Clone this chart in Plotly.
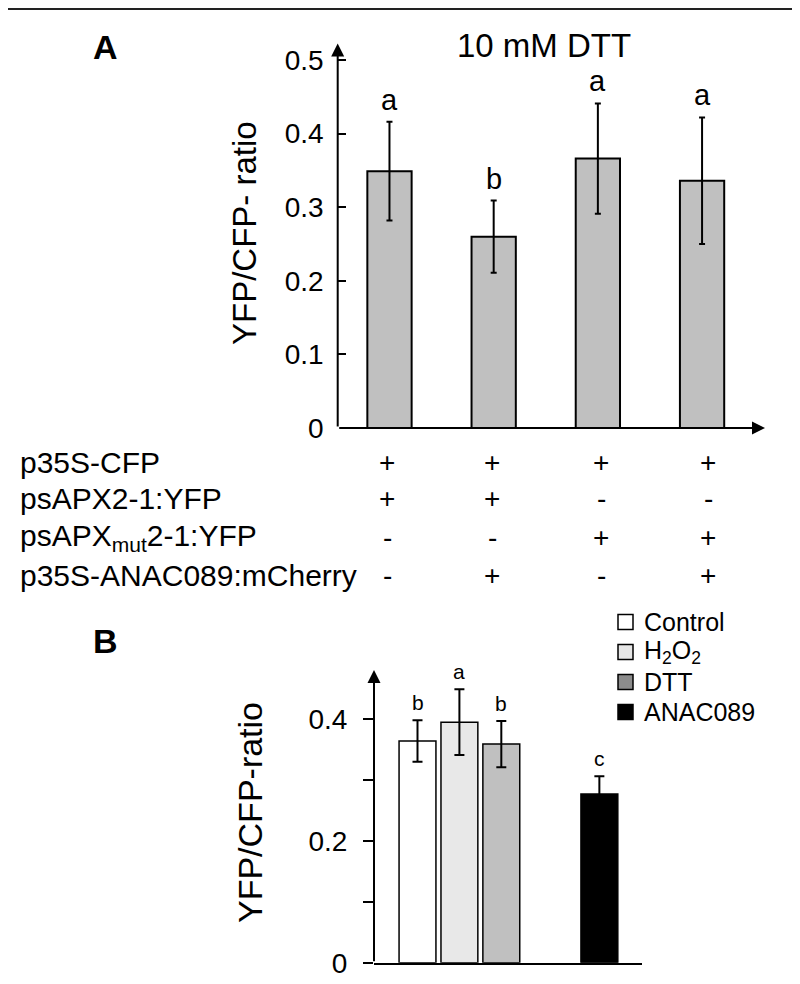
import plotly.graph_objects as go

# ---- panel A data ----
pos_a = [0, 1, 2, 3]
ratio_a = [0.349, 0.260, 0.366, 0.336]
err_a = [0.067, 0.049, 0.075, 0.086]
letters_a = ['a', 'b', 'a', 'a']
yticks_a = [0, 0.1, 0.2, 0.3, 0.4, 0.5]
yticktext_a = ['0', '0.1', '0.2', '0.3', '0.4', '0.5']

row_labels = ['p35S-CFP', 'psAPX2-1:YFP', 'psAPX<sub>mut</sub>2-1:YFP', 'p35S-ANAC089:mCherry']
row_signs = [['+', '+', '+', '+'],
             ['+', '+', '-', '-'],
             ['-', '-', '+', '+'],
             ['-', '+', '-', '+']]

# ---- panel B data ----
cond_b = ['Control', 'H<sub>2</sub>O<sub>2</sub>', 'DTT', 'ANAC089']
pos_b = [0, 1, 2, 4.34]
ratio_b = [0.364, 0.395, 0.359, 0.277]
err_b = [0.034, 0.054, 0.038, 0.029]
letters_b = ['b', 'a', 'b', 'c']
bar_colors_b = ['#ffffff', '#e8e8e8', '#c0c0c0', '#000000']
legend_colors_b = ['#ffffff', '#e6e6e6', '#8c8c8c', '#000000']
yticks_b = [0, 0.2, 0.4]
yticktext_b = ['0', '0.2', '0.4']
yminor_b = [0.1, 0.3]

FONT = 'Liberation Sans, Arial, sans-serif'
W, H = 800, 984


def px(x):
    return x / W


def py(y):
    return 1 - y / H


fig = go.Figure()

fig.add_trace(go.Bar(x=pos_a, y=ratio_a, width=0.425,
                     marker=dict(color='#c0c0c0', line=dict(color='black', width=2)),
                     error_y=dict(type='data', array=err_a, color='black', thickness=2, width=3),
                     xaxis='x', yaxis='y', showlegend=False))

fig.add_trace(go.Bar(x=pos_b, y=ratio_b, width=0.88,
                     marker=dict(color=bar_colors_b, line=dict(color='black', width=1.5)),
                     error_y=dict(type='data', array=err_b, color='black', thickness=2, width=5),
                     xaxis='x2', yaxis='y2', showlegend=False))

xa = [-0.497, 3.604]
ya = [0, 0.5224]
xb = [-1.038, 5.35]
yb = [0, 0.4806]

fig.update_layout(
    width=W, height=H,
    margin=dict(l=0, r=0, t=0, b=0),
    paper_bgcolor='white', plot_bgcolor='white',
    font=dict(family=FONT, color='black'),
    xaxis=dict(domain=[px(337.7), px(765)], range=xa, showticklabels=False, automargin=False,
               showgrid=False, zeroline=False, ticks=''),
    yaxis=dict(domain=[py(428), py(43.5)], range=ya, showgrid=False, zeroline=False,
               automargin=False, tickvals=yticks_a, ticktext=yticktext_a,
               ticks='inside', ticklen=8, tickwidth=2, tickcolor='black',
               ticklabelstandoff=13, tickfont=dict(size=28)),
    xaxis2=dict(domain=[px(374), px(641.7)], range=xb, showticklabels=False, automargin=False,
                showgrid=False, zeroline=False, ticks='', anchor='y2',
                showline=True, linecolor='black', linewidth=2),
    yaxis2=dict(domain=[py(962.7), py(670)], range=yb, showgrid=False, zeroline=False,
                anchor='x2', automargin=False, tickvals=yticks_b, ticktext=yticktext_b,
                ticks='outside', ticklen=10, tickwidth=2, tickcolor='black',
                minor=dict(tickvals=yminor_b, ticks='outside', ticklen=10, tickwidth=2,
                           tickcolor='black', showgrid=False),
                ticklabelstandoff=10, tickfont=dict(size=28)),
)

ann = []
# axis arrows
arrow = dict(text='', showarrow=True, arrowhead=2, arrowsize=1.3, arrowwidth=2, arrowcolor='black')
ann.append(dict(x=xa[0], y=ya[1], ax=xa[0], ay=0, xref='x', yref='y', axref='x', ayref='y', **arrow))
ann.append(dict(x=xa[1], y=0, ax=xa[0], ay=0, xref='x', yref='y', axref='x', ayref='y', **arrow))
ann.append(dict(x=xb[0], y=yb[1], ax=xb[0], ay=0, xref='x2', yref='y2', axref='x2', ayref='y2', **arrow))

# significance letters
for xi, m, e, t in zip(pos_a, ratio_a, err_a, letters_a):
    ann.append(dict(x=xi, y=m + e, xref='x', yref='y', text=t, showarrow=False,
                    xanchor='center', yanchor='bottom', yshift=4, font=dict(size=29)))
for xi, m, e, t in zip(pos_b, ratio_b, err_b, letters_b):
    ann.append(dict(x=xi, y=m + e, xref='x2', yref='y2', text=t, showarrow=False,
                    xanchor='center', yanchor='bottom', yshift=4, font=dict(size=21)))


def label(x, y, text, size, **kw):
    d = dict(x=px(x), y=py(y), xref='paper', yref='paper', text=text, showarrow=False,
             xanchor='center', yanchor='middle', font=dict(size=size))
    d.update(kw)
    ann.append(d)


label(544, 45, '10 mM DTT', 33)
label(244, 233, 'YFP/CFP- ratio', 33, textangle=-90)
label(250, 813, 'YFP/CFP-ratio', 34, textangle=-90)
label(105, 47, '<b>A</b>', 34)
label(105, 641, '<b>B</b>', 34)

# construct table under panel A
row_y = [462, 499, 537, 575]
sign_x = [387, 492, 601, 708]
for lab, signs, ry in zip(row_labels, row_signs, row_y):
    label(18, ry, lab, 30, xanchor='left')
    for sx, s in zip(sign_x, signs):
        label(sx, ry, s, 28)

# legend for panel B
shapes = [dict(type='line', xref='paper', yref='paper', x0=px(8), x1=px(792),
               y0=py(9), y1=py(9), line=dict(color='#222222', width=2))]
leg_y = [622, 652, 682, 712]
for lab, col, ly in zip(cond_b, legend_colors_b, leg_y):
    shapes.append(dict(type='rect', xref='paper', yref='paper',
                       x0=px(618), x1=px(633), y0=py(ly + 7.5), y1=py(ly - 7.5),
                       fillcolor=col, line=dict(color='black', width=1.5)))
    label(642, ly, lab, 25, xanchor='left')

fig.update_layout(annotations=ann, shapes=shapes)
fig.write_html('out.html', config={'displayModeBar': False},
               post_script="document.body.style.margin='0px';")
